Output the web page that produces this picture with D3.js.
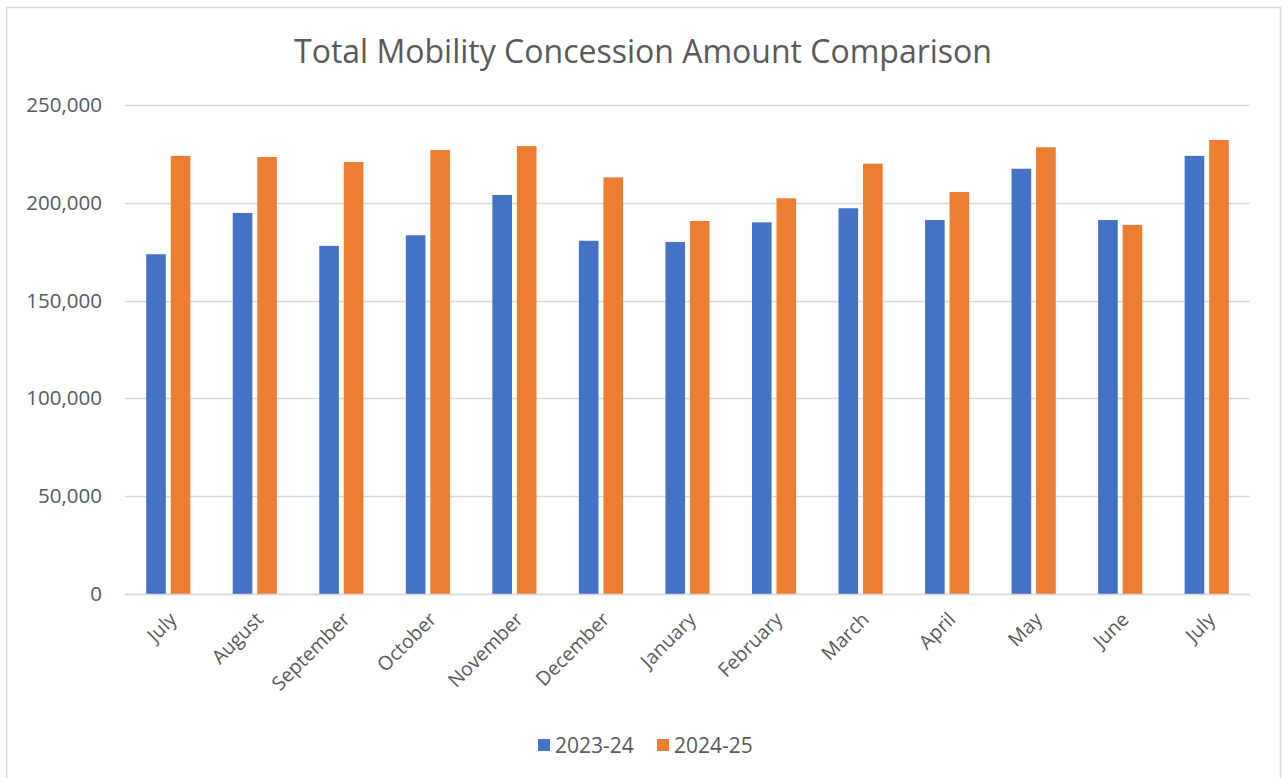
<!DOCTYPE html>
<html>
<head>
<meta charset="utf-8">
<script src="https://cdn.jsdelivr.net/npm/d3@7"></script>
<style>
  html, body { margin: 0; padding: 0; background: #fff; }
  svg { display: block; }
  text { font-family: "Open Sans", "Noto Sans", sans-serif; fill: #595959; }
</style>
</head>
<body>
<svg id="chart" width="1287" height="778"></svg>
<script>
const months = ["July","August","September","October","November","December","January","February","March","April","May","June","July"];
const seriesNames = ["2023-24", "2024-25"];
const values2023 = [173700, 194800, 178000, 183400, 204000, 180600, 180000, 190000, 197200, 191200, 217400, 191200, 224000];
const values2024 = [224000, 223400, 220900, 227000, 229000, 213000, 190700, 202300, 220000, 205500, 228400, 188700, 232100];
const yTicks = [0, 50000, 100000, 150000, 200000, 250000];
const colors = ["#4472C4", "#ED7D31"];
const title = "Total Mobility Concession Amount Comparison";

const svg = d3.select("#chart");
const m = { left: 125, right: 1250, top: 105, bottom: 594 };

// outer border
svg.append("rect").attr("x", 6.5).attr("y", 7.5).attr("width", 1274).attr("height", 790)
  .attr("fill", "#fff").attr("stroke", "#d9d9d9").attr("stroke-width", 1.5);

const idx = months.map((d, i) => i);
const x0 = d3.scaleBand().domain(idx).range([m.left, m.right]).paddingInner(0).paddingOuter(0);
const groupW = x0.bandwidth() * 0.51;
const x1 = d3.scaleBand().domain(seriesNames).range([0, groupW]).paddingInner(0.2).paddingOuter(0);
const y = d3.scaleLinear().domain([0, 250000]).range([m.bottom, m.top]);

// gridlines
svg.append("g").selectAll("line").data(yTicks).join("line")
  .attr("x1", m.left).attr("x2", m.right)
  .attr("y1", d => Math.round(y(d)) + 0.5).attr("y2", d => Math.round(y(d)) + 0.5)
  .attr("stroke", "#d9d9d9").attr("stroke-width", 1.5);

// y axis labels
const yAxis = d3.axisLeft(y).tickValues(yTicks).tickSize(0).tickPadding(0)
  .tickFormat(d3.format(","));
const ya = svg.append("g").attr("transform", `translate(${m.left - 23},0)`).call(yAxis);
ya.select(".domain").remove();
ya.selectAll("text").style("font-size", "20.5px").attr("fill", "#595959")
  .style("font-family", '"Open Sans", sans-serif');

// bars
const data = idx.map(i => ({ i, vals: [values2023[i], values2024[i]] }));
const groups = svg.append("g").selectAll("g").data(data).join("g")
  .attr("transform", d => `translate(${x0(d.i) + (x0.bandwidth() - groupW) / 2},0)`);
groups.selectAll("rect").data(d => d.vals.map((v, k) => ({ k, v }))).join("rect")
  .attr("x", d => x1(seriesNames[d.k]))
  .attr("width", x1.bandwidth())
  .attr("y", d => y(d.v))
  .attr("height", d => y(0) - y(d.v))
  .attr("fill", d => colors[d.k]);

// x axis line
svg.append("line").attr("x1", m.left).attr("x2", m.right)
  .attr("y1", m.bottom + 0.5).attr("y2", m.bottom + 0.5)
  .attr("stroke", "#d9d9d9").attr("stroke-width", 1.5);

// x labels
const xAxis = d3.axisBottom(x0).tickFormat(i => months[i]).tickSize(0).tickPadding(0);
const xa = svg.append("g").attr("transform", `translate(0,${m.bottom})`).call(xAxis);
xa.select(".domain").remove();
xa.selectAll("text")
  .attr("text-anchor", "end")
  .attr("dy", null).attr("y", 0)
  .attr("transform", "translate(6,23) rotate(-45)")
  .attr("dominant-baseline", "middle")
  .style("font-size", "19.5px")
  .style("font-family", '"Open Sans", sans-serif')
  .attr("fill", "#595959");

// title
svg.append("text").attr("x", 643).attr("y", 63).attr("text-anchor", "middle")
  .style("font-size", "32px").text(title);

// legend
const legend = svg.append("g");
const lx = [538, 657];
seriesNames.forEach((s, k) => {
  legend.append("rect").attr("x", lx[k]).attr("y", 739).attr("width", 12).attr("height", 12).attr("fill", colors[k]);
  legend.append("text").attr("x", lx[k] + 17).attr("y", 753).style("font-size", "21px").text(s);
});
</script>
</body>
</html>
